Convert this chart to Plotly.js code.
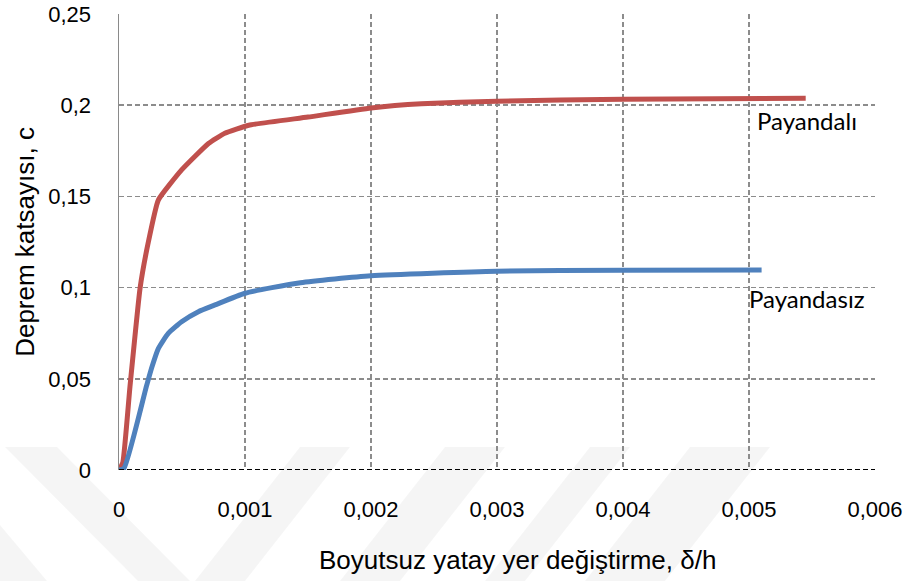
<!DOCTYPE html>
<html>
<head>
<meta charset="utf-8">
<script src="https://cdn.plot.ly/plotly-3.0.1.min.js"></script>
<style>html,body{margin:0;padding:0;background:#fff;}#chart{width:914px;height:581px;}</style>
</head>
<body>
<div id="chart"></div>
<script>
// Payandalı (with struts) – red
const xPayandali = [0, 0.00003, 0.000087, 0.000167, 0.00023, 0.000312, 0.000497, 0.00071, 0.00084, 0.00103, 0.0015, 0.002, 0.0024, 0.003, 0.004, 0.00545];
const yPayandali = [0, 0.004, 0.0457, 0.0996, 0.124, 0.148, 0.1645, 0.179, 0.1846, 0.189, 0.1935, 0.1985, 0.2008, 0.2022, 0.2033, 0.2038];
// Payandasız (without struts) – blue
const xPayandasiz = [0, 0.00004, 0.00022, 0.00026, 0.000312, 0.000391, 0.000497, 0.00063, 0.000762, 0.001, 0.00144, 0.002, 0.003, 0.004, 0.0051];
const yPayandasiz = [0, 0.001, 0.0465, 0.0562, 0.0666, 0.0749, 0.0813, 0.0868, 0.0905, 0.0969, 0.1027, 0.1065, 0.109, 0.1095, 0.1096];

const seriesLabels = ["Payandalı", "Payandasız"];
const labelX = [0.00546, 0.00546];
const labelY = [0.1915, 0.0940];

const xTicks = [0, 0.001, 0.002, 0.003, 0.004, 0.005, 0.006];
const xTickText = ["0", "0,001", "0,002", "0,003", "0,004", "0,005", "0,006"];
const yTicks = [0, 0.05, 0.1, 0.15, 0.2, 0.25];
const yTickText = ["0", "0,05", "0,1", "0,15", "0,2", "0,25"];
const xTitle = "Boyutsuz yatay yer değiştirme, δ/h";
const yTitle = "Deprem katsayısı, c";

const W = 914, H = 581, L = 119, R = 39, T = 14, B = 111;
const pw = W - L - R, ph = H - T - B;
function px(x){ return (x - L) / pw; }
function py(y){ return (H - B - y) / ph; }
function band(pts){
  return {type:'path', xref:'paper', yref:'paper', layer:'below',
    path: 'M' + pts.map(p => px(p[0]) + ',' + py(p[1])).join(' L') + ' Z',
    fillcolor:'rgba(0,0,0,0.04)', line:{width:0}};
}

const traces = [
  {x: xPayandali, y: yPayandali, mode:'lines', name: seriesLabels[0],
   line:{color:'#C0504D', width:5, shape:'spline', smoothing:0.4}},
  {x: xPayandasiz, y: yPayandasiz, mode:'lines', name: seriesLabels[1],
   line:{color:'#4F81BD', width:5, shape:'spline', smoothing:0.5}}
];

const annots = seriesLabels.map((t,i) => ({
  x: labelX[i], y: labelY[i], xref:'x', yref:'y', text:t, showarrow:false,
  xanchor:'center', yanchor:'middle',
  font:{family:'Lato, "Open Sans", sans-serif', size:24, color:'#000'}
}));
annots.push({x: px(517), y: py(560), xref:'paper', yref:'paper', text:xTitle, showarrow:false,
  xanchor:'center', yanchor:'middle',
  font:{family:'"Liberation Sans", Arial, sans-serif', size:26, color:'#000'}});

const layout = {
  width: W, height: H,
  margin:{l:L, r:R, t:T, b:B, pad:0},
  paper_bgcolor:'#ffffff', plot_bgcolor:'rgba(0,0,0,0)',
  showlegend:false,
  font:{family:'"Liberation Sans", Arial, sans-serif', color:'#000'},
  xaxis:{
    range:[0, 0.006], tickvals:xTicks, ticktext:xTickText,
    showgrid:true, gridcolor:'#8c8c8c', gridwidth:1.5, griddash:'5px,3px',
    zeroline:false, showline:false, ticks:'',
    tickfont:{size:22, family:'"Liberation Sans", Arial, sans-serif'},
    ticklabelstandoff:24
  },
  yaxis:{
    range:[0, 0.25], tickvals:yTicks, ticktext:yTickText,
    showgrid:true, gridcolor:'#8c8c8c', gridwidth:1.5, griddash:'5px,3px',
    zeroline:false, showline:true, linecolor:'#8a8a8a', linewidth:1.5, ticks:'',
    tickfont:{size:22, family:'"Liberation Sans", Arial, sans-serif'},
    ticklabelstandoff:22,
    title:{text:yTitle, font:{size:26}, standoff:6}
  },
  shapes:[
    band([[5,447],[57,447],[190,581],[138,581]]),
    band([[0,525],[47,581],[0,581]]),
    band([[300,447],[350,447],[245,581],[195,581]]),
    band([[445,447],[505,447],[400,581],[340,581]]),
    band([[590,447],[630,447],[525,581],[485,581]]),
    band([[690,447],[770,447],[665,581],[585,581]]),
    {type:'line', xref:'paper', yref:'y', x0:0, x1:1, y0:0, y1:0, layer:'above',
     line:{color:'#000', width:2, dash:'5px,3px'}}
  ],
  annotations: annots
};

Plotly.newPlot('chart', traces, layout, {displayModeBar:false, staticPlot:true});
</script>
</body>
</html>
